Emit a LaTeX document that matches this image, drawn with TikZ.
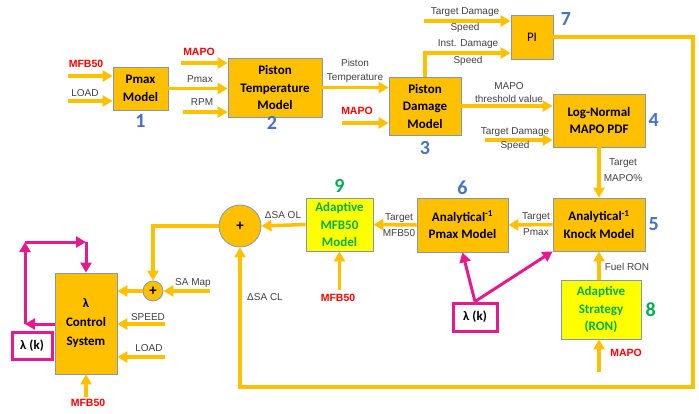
\documentclass[tikz,border=0pt]{standalone}
\usepackage{fontspec}
\setmainfont{Carlito}
\setsansfont{Liberation Sans}
\usepackage{tikz}
\usetikzlibrary{positioning, arrows.meta}

\definecolor{blkfill}{HTML}{FFC000}
\definecolor{blkedge}{HTML}{8497B0}
\definecolor{adaptfill}{HTML}{FFFF00}
\definecolor{adapttext}{HTML}{00B050}
\definecolor{numblue}{HTML}{4472C4}
\definecolor{lammag}{HTML}{E6198F}
\definecolor{lblgray}{HTML}{404040}
\definecolor{sigred}{HTML}{FF0000}

\begin{document}
\begin{tikzpicture}[
  x=1pt, y=-1pt,
  blk/.style={draw=blkedge, fill=blkfill, line width=0.8pt, align=center,
    inner sep=0pt, font=\bfseries\fontsize{13}{17.5}\selectfont},
  adapt/.style={blk, fill=adaptfill, text=adapttext},
  lamk/.style={draw=lammag, fill=white, line width=3pt, inner sep=0pt,
    minimum width=40pt, minimum height=27pt,
    font=\bfseries\fontsize{13}{16}\selectfont},
  sumc/.style={circle, draw=blkedge, fill=blkfill, line width=0.8pt,
    inner sep=0pt, font=\bfseries\fontsize{15}{16}\selectfont},
  lbl/.style={text=lblgray, align=center, inner sep=0pt,
    font=\sffamily\fontsize{10}{15}\selectfont},
  sig/.style={text=sigred, inner sep=0pt,
    font=\sffamily\bfseries\fontsize{10.5}{12}\selectfont},
  num/.style={text=numblue, inner sep=0pt,
    font=\bfseries\fontsize{20}{20}\selectfont},
  arrow/.style={draw=blkfill, line width=3.5pt,
    -{Triangle[length=10pt, width=11pt]}},
  marrow/.style={draw=lammag, line width=3pt,
    -{Triangle[length=10pt, width=11pt]}},
]
  \useasboundingbox (0,0) rectangle (699,413);

  % blocks
  \node[blk, minimum width=55pt, minimum height=43pt] (pmax) at (140.5,88.5) {Pmax\\Model};
  \node[blk, minimum width=94pt, minimum height=59pt] (ptemp) at (275,87.5) {Piston\\Temperature\\Model};
  \node[blk, minimum width=72pt, minimum height=58pt] (pdam) at (425,106) {Piston\\Damage\\Model};
  \node[blk, font=\fontsize{13}{16}\selectfont, minimum width=42pt, minimum height=44pt] (pi) at (532,37) {PI};
  \node[blk, minimum width=92pt, minimum height=53pt] (lognorm) at (599,120.5) {Log-Normal\\MAPO PDF};
  \node[blk, minimum width=92pt, minimum height=53pt] (knock) at (599,224.5) {Analytical\textsuperscript{-1}\\Knock Model};
  \node[blk, minimum width=91pt, minimum height=54pt] (pmaxinv) at (462.5,225) {Analytical\textsuperscript{-1}\\Pmax Model};
  \node[adapt, minimum width=67pt, minimum height=53pt] (adapt) at (339.5,224.5) {Adaptive\\MFB50\\Model};
  \node[adapt, minimum width=80pt, minimum height=59pt] (ron) at (601,309.5) {Adaptive\\Strategy\\(RON)};
  \node[blk, font=\bfseries\fontsize{13}{19}\selectfont, minimum width=62pt, minimum height=101pt] (lctrl) at (86,323.5) {λ\\Control\\System};
  \node[sumc, minimum size=42pt] (sumA) at (240,226) {+};
  \node[sumc, minimum size=20pt] (sumB) at (153,291) {+};

  % block numbers
  \node[num, below=4pt of pmax] (n1) {1};
  \node[num] (n2) at (272,123) {2};
  \node[num, below=6pt of pdam] (n3) {3};
  \node[num, right=3pt of lognorm] (n4) {4};
  \node[num, right=3pt of knock] (n5) {5};
  \node[num, above=3pt of pmaxinv] (n6) {6};
  \node[num] (n7) at (566,19) {7};
  \node[num, text=adapttext, right=4pt of ron] (n8) {8};
  \node[num, text=adapttext, above=4.5pt of adapt] (n9) {9};

  % free ends
  \coordinate (mfbA) at (68,76);
  \coordinate (loadA) at (68,101);
  \coordinate (mapoB) at (181,63);
  \coordinate (rpmB) at (183,112);
  \coordinate (mapoC) at (342,123);
  \coordinate (tdsA) at (424,21);
  \coordinate (tdsB) at (485,140);
  \coordinate (mfbD) at (339.5,290);
  \coordinate (ret) at (693,387);
  \coordinate (samap) at (210,291);
  \coordinate (spd) at (165,324);
  \coordinate (ld) at (165,357);
  \coordinate (mfbE) at (86,397);
  \coordinate (mapoF) at (599,372);
  \coordinate (lp1) at (25,324);
  \coordinate (lp2) at (25,242);

  % signal flow
  \draw[arrow] (mfbA) -- (mfbA -| pmax.west);
  \draw[arrow] (loadA) -- (loadA -| pmax.west);
  \draw[arrow] (mapoB) -- (mapoB -| ptemp.west);
  \draw[arrow] (pmax.east) -- (pmax.east -| ptemp.west);
  \draw[arrow] (rpmB) -- (rpmB -| ptemp.west);
  \draw[arrow] (ptemp.east) -- (ptemp.east -| pdam.west);
  \draw[arrow] (mapoC) -- (mapoC -| pdam.west);
  \draw[arrow] (pdam.north) |- ([yshift=-16pt]pi.west);
  \draw[arrow] (tdsA) -- (tdsA -| pi.west);
  \draw[arrow] (pdam.east) -- (pdam.east -| lognorm.west);
  \draw[arrow] (tdsB) -- (tdsB -| lognorm.west);
  \draw[arrow] (lognorm.south) -- (knock.north);
  \draw[arrow] (knock.west) -- (pmaxinv.east);
  \draw[arrow] (pmaxinv.west) -- (adapt.east);
  \draw[arrow] (adapt.west) -- (sumA.east);
  \draw[arrow] (mfbD) -- (adapt.south);
  \draw[arrow] (pi.east) -| (ret) -| (sumA.south);
  \draw[arrow] (sumA.west) -| (sumB.north);
  \draw[arrow] (samap) -- (sumB.east);
  \draw[arrow] (sumB.west) -- (sumB.west -| lctrl.east);
  \draw[arrow] (spd) -- (spd -| lctrl.east);
  \draw[arrow] (ld) -- (ld -| lctrl.east);
  \draw[arrow] (mfbE) -- (lctrl.south);
  \draw[arrow] (ron.north -| knock.south) -- (knock.south);
  \draw[arrow] (mapoF) -- (mapoF |- ron.south);

  % lambda feedback
  \draw[marrow] (lctrl.west |- lp1) -- (lp1);
  \draw[marrow] (lp1) -- (lp2);
  \draw[marrow] (lp2) -- (lp2 -| lctrl.north);
  \draw[marrow] (lp2 -| lctrl.north) -- (lctrl.north);
  \node[lamk] (lamkA) at (32,345.5) {λ (k)};
  \node[lamk, minimum width=44pt, minimum height=28pt] (lamkB) at (475,317) {λ (k)};
  \draw[marrow] (lamkB.north) -- (pmaxinv.south);
  \draw[marrow] (lamkB.north) -- (knock.south west);

  % labels
  \node[sig] (mfbAl) at (86,64) {MFB50};
  \node[lbl] (loadAl) at (85,93) {LOAD};
  \node[sig] (mapoBl) at (199,52) {MAPO};
  \node[lbl] (pmaxl) at (200,79) {Pmax};
  \node[lbl] (rpml) at (202,102) {RPM};
  \node[lbl, font=\sffamily\fontsize{10}{14}\selectfont] (ptl) at (355,71) {Piston\\Temperature};
  \node[sig] (mapoCl) at (357,111) {MAPO};
  \node[lbl, font=\sffamily\fontsize{10}{16.5}\selectfont] (tdsAl) at (465,20) {Target Damage\\Speed};
  \node[lbl, font=\sffamily\fontsize{10}{16.5}\selectfont] (idsl) at (468,52.5) {Inst. Damage\\Speed};
  \node[lbl, font=\sffamily\fontsize{10}{13.5}\selectfont] (thrl) at (509,92.5) {MAPO\\threshold value};
  \node[lbl, font=\sffamily\fontsize{10}{14}\selectfont] (tdsBl) at (515,139) {Target Damage\\Speed};
  \node[lbl, font=\sffamily\fontsize{10}{16}\selectfont] (tmapol) at (623,170) {Target\\MAPO\%};
  \node[lbl, font=\sffamily\fontsize{10}{16}\selectfont] (tpmaxl) at (536,224) {Target\\Pmax};
  \node[lbl, font=\sffamily\fontsize{10}{16}\selectfont] (tmfbl) at (399,225) {Target\\MFB50};
  \node[lbl] (saol) at (283,215) {ΔSA OL};
  \node[sig] (mfbDl) at (338,298) {MFB50};
  \node[lbl] (sacl) at (265,297) {ΔSA CL};
  \node[lbl] (samapl) at (193,283) {SA Map};
  \node[lbl] (spdl) at (148,317) {SPEED};
  \node[lbl] (ldl) at (149,348) {LOAD};
  \node[sig] (mfbEl) at (88,403) {MFB50};
  \node[lbl] (fronl) at (627,267) {Fuel RON};
  \node[sig] (mapoFl) at (626,353) {MAPO};
\end{tikzpicture}
\end{document}
